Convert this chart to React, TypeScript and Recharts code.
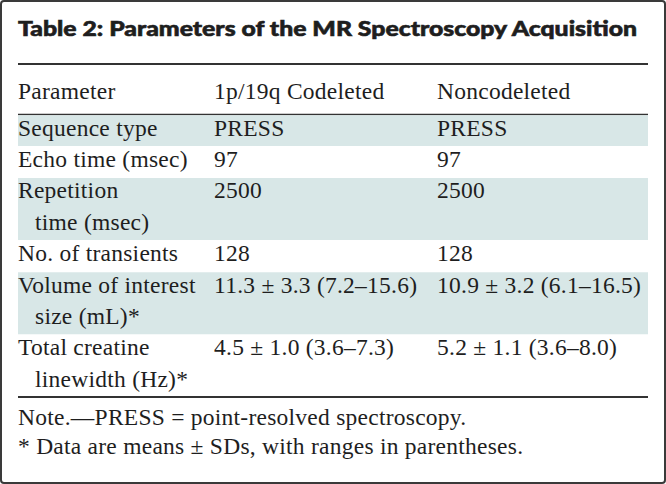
import { Surface, Layer, Rectangle } from "recharts";

if (typeof document !== "undefined") {
  document.body.style.margin = "0";
}

const title = "Table 2: Parameters of the MR Spectroscopy Acquisition";
const headers = ["Parameter", "1p/19q Codeleted", "Noncodeleted"];

// each parameter may wrap to a second (indented) line
const parameters = [
  ["Sequence type"],
  ["Echo time (msec)"],
  ["Repetition", "time (msec)"],
  ["No. of transients"],
  ["Volume of interest", "size (mL)*"],
  ["Total creatine", "linewidth (Hz)*"],
];
const codeleted = [
  "PRESS",
  "97",
  "2500",
  "128",
  "11.3 ± 3.3 (7.2–15.6)",
  "4.5 ± 1.0 (3.6–7.3)",
];
const noncodeleted = [
  "PRESS",
  "97",
  "2500",
  "128",
  "10.9 ± 3.2 (6.1–16.5)",
  "5.2 ± 1.1 (3.6–8.0)",
];
const notes = [
  "Note.—PRESS = point-resolved spectroscopy.",
  "* Data are means ± SDs, with ranges in parentheses.",
];

const W = 666;
const H = 484;
const left = 18;
const right = 648;
const colX = [18, 214, 437];
const lineH = 31.4;
const bodyTop = 114.5;
const shade = "#d8e7e7";
const ink = "#1e1e1e";
const serif = "'Liberation Serif', 'Times New Roman', serif";
const fs = 23.5;
const ls = 0.25;

export default function App() {
  let y = bodyTop;
  const rows = parameters.map((p, i) => {
    const top = y;
    const h = p.length * lineH;
    y += h;
    return { top, h, p, i };
  });
  const bodyBottom = y;

  const cell = (t: string, x: number, yy: number, key?: string | number) => (
    <text key={key} x={x} y={yy} fontFamily={serif} fontSize={fs} letterSpacing={ls} fill={ink}>
      {t}
    </text>
  );

  return (
    <div style={{ width: W, height: H, background: "#fff" }}>
      <Surface width={W} height={H}>
        <Rectangle x={1} y={1} width={W - 2} height={H - 2} radius={3} fill="#fff" stroke="#3a3a3a" strokeWidth={2} />
        <text
          x={left}
          y={36}
          fontFamily="Lato, 'DejaVu Sans', sans-serif"
          fontWeight={900}
          fontSize={20.5}
          fill={ink}
          stroke={ink}
          strokeWidth={0.6}
          textLength={619}
          lengthAdjust="spacingAndGlyphs"
        >
          {title}
        </text>
        <line x1={left} x2={right} y1={64} y2={64} stroke="#333" strokeWidth={2} />
        {headers.map((h, j) => cell(h, colX[j], 99, h))}
        <line x1={left} x2={right} y1={bodyTop} y2={bodyTop} stroke="#333" strokeWidth={1.6} />
        {rows.map(({ top, h, p, i }) => (
          <Layer key={i}>
            {i % 2 === 0 && <Rectangle x={left} y={top + 0.8} width={right - left} height={h - 0.8} fill={shade} />}
            {p.map((t, k) => cell(t, colX[0] + (k > 0 ? 17 : 0), top + 21 + k * lineH, k))}
            {cell(codeleted[i], colX[1], top + 21)}
            {cell(noncodeleted[i], colX[2], top + 21)}
          </Layer>
        ))}
        <line x1={left} x2={right} y1={bodyBottom} y2={bodyBottom} stroke="#333" strokeWidth={2} />
        {notes.map((n, k) => cell(n, left, bodyBottom + 28 + k * 29, k))}
      </Surface>
    </div>
  );
}
